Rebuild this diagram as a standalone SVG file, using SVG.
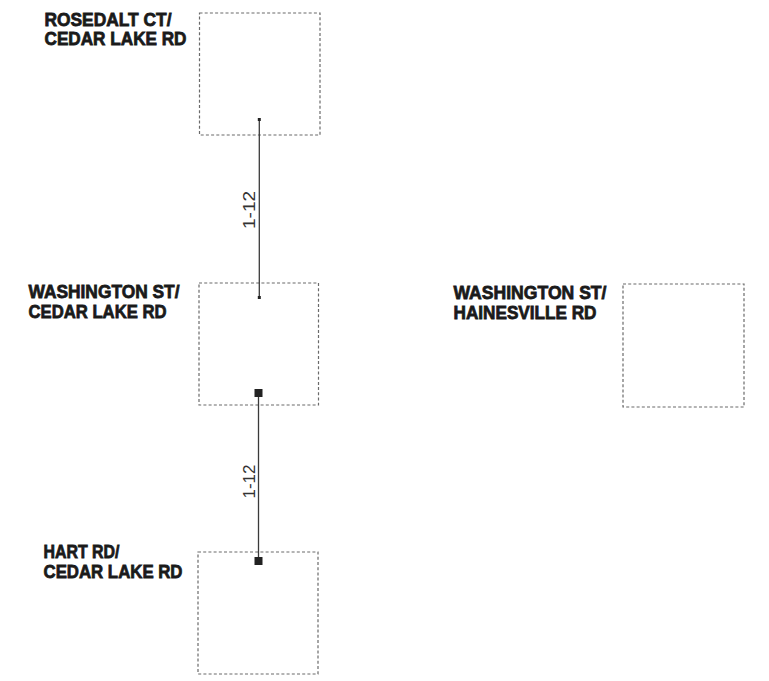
<svg xmlns="http://www.w3.org/2000/svg" width="769" height="681" viewBox="0 0 769 681">
<style>
.box{fill:none;stroke:#6a6a6a;stroke-width:1.2;stroke-dasharray:3 2.2}
.lbl{font-family:"Liberation Sans","Arial",sans-serif;font-weight:bold;font-size:19px;fill:#1a1a1a;stroke:#1a1a1a;stroke-width:0.8}
.edge{stroke:#3a3a3a;stroke-width:1.3;fill:none}
.elbl{font-family:"Liberation Sans","Arial",sans-serif;font-size:16px;fill:#333;text-anchor:middle}
.dot{fill:#222}
</style>
<rect width="769" height="681" fill="#fff"/>
<g id="node-rosedalt">
<rect class="box" x="199.5" y="13" width="120.5" height="122"/>
<text class="lbl" x="44.5" y="25.5" textLength="127" lengthAdjust="spacingAndGlyphs">ROSEDALT CT/</text>
<text class="lbl" x="44.5" y="45" textLength="142" lengthAdjust="spacingAndGlyphs">CEDAR LAKE RD</text>
</g>
<g id="node-washington-cedar">
<rect class="box" x="199" y="283" width="119.5" height="122"/>
<text class="lbl" x="28.5" y="298" textLength="151" lengthAdjust="spacingAndGlyphs">WASHINGTON ST/</text>
<text class="lbl" x="28.5" y="318" textLength="138" lengthAdjust="spacingAndGlyphs">CEDAR LAKE RD</text>
</g>
<g id="node-washington-hainesville">
<rect class="box" x="623" y="284" width="121" height="123"/>
<text class="lbl" x="453.5" y="299" textLength="153" lengthAdjust="spacingAndGlyphs">WASHINGTON ST/</text>
<text class="lbl" x="453.5" y="319" textLength="143" lengthAdjust="spacingAndGlyphs">HAINESVILLE RD</text>
</g>
<g id="node-hart">
<rect class="box" x="198" y="552" width="120" height="122"/>
<text class="lbl" x="43.5" y="558" textLength="76" lengthAdjust="spacingAndGlyphs">HART RD/</text>
<text class="lbl" x="43.5" y="578" textLength="139" lengthAdjust="spacingAndGlyphs">CEDAR LAKE RD</text>
</g>
<g id="connectors">
<g id="edge-1">
<line class="edge" x1="259.3" y1="119.5" x2="259.3" y2="297.5"/>
<rect class="dot" x="257.8" y="118" width="3" height="3"/>
<rect class="dot" x="257.8" y="296" width="3" height="3"/>
<text class="elbl" transform="translate(255,210) rotate(-90)" textLength="38" lengthAdjust="spacingAndGlyphs">1-12</text>
</g>
<g id="edge-2">
<line class="edge" x1="258.5" y1="393" x2="258.5" y2="561"/>
<rect class="dot" x="254.5" y="389" width="8" height="8"/>
<rect class="dot" x="254.5" y="557" width="8" height="8"/>
<text class="elbl" transform="translate(255,481.5) rotate(-90)" textLength="34" lengthAdjust="spacingAndGlyphs">1-12</text>
</g>
</g>
</svg>
